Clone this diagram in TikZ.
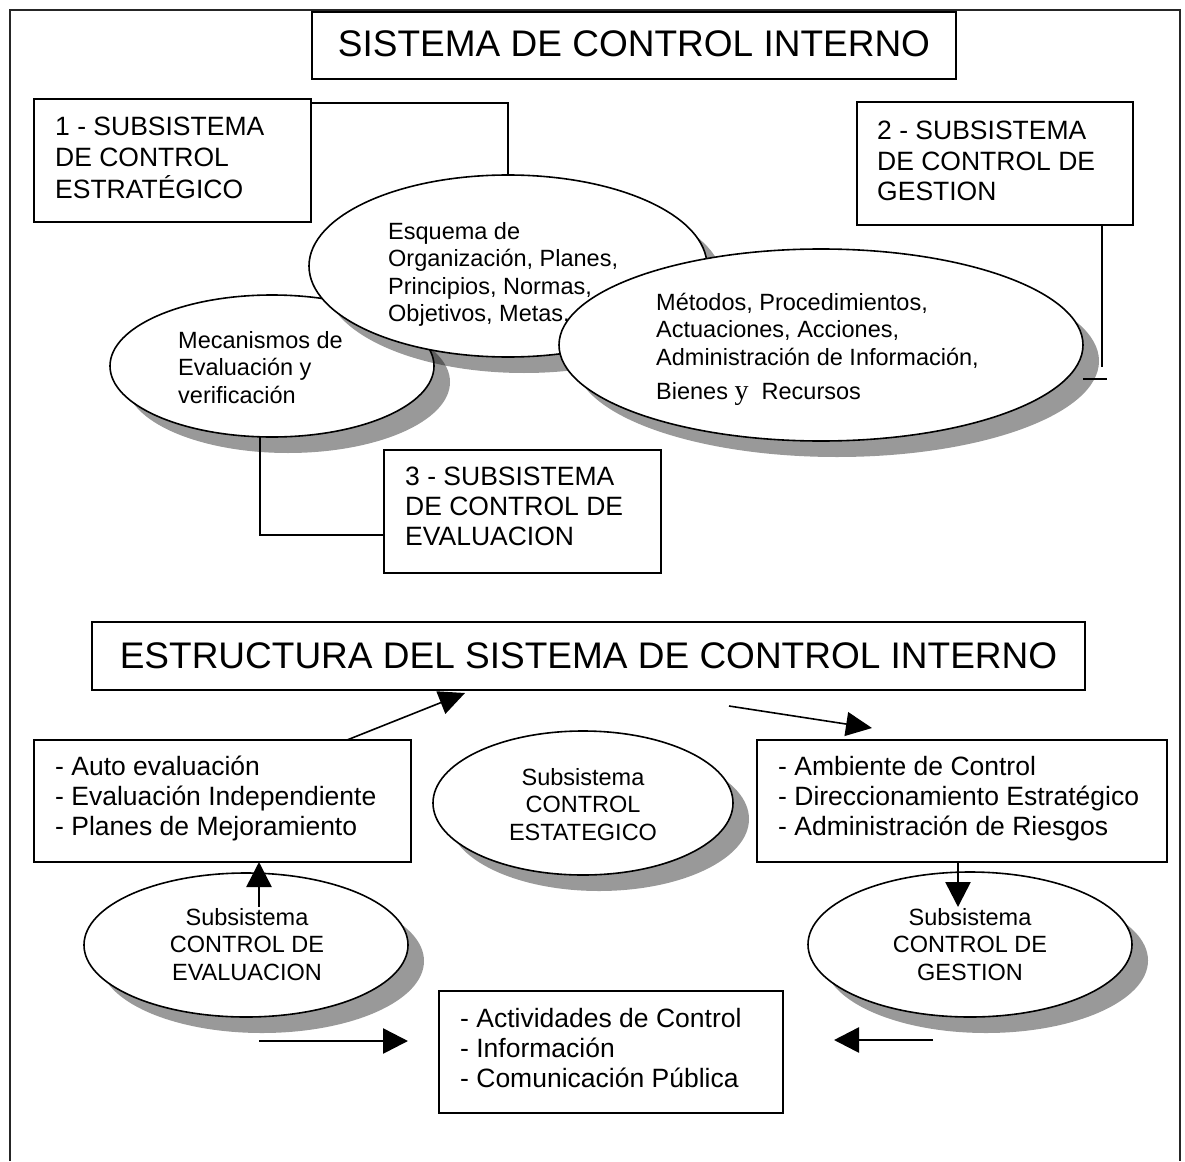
\documentclass[tikz,border=0pt]{standalone}
\usepackage{fontspec}
\setmainfont{Liberation Sans}
\newfontfamily\serifY{Liberation Serif}
\usetikzlibrary{shapes.geometric,arrows.meta,shadows}
\begin{document}
\begin{tikzpicture}[x=1pt,y=-1pt,
  box/.style={draw, line width=2.4pt, rectangle, inner sep=0pt, outer sep=0pt},
  ell/.style={draw, line width=1.6pt, ellipse, fill=white, inner sep=0pt, outer sep=0pt,
    drop shadow={shadow xshift=16pt, shadow yshift=-16pt, opacity=0.4, fill=black}},
  conn/.style={line width=1.6pt},
  bigarrow/.style={line width=2.6pt, -{Triangle[length=25pt,width=25pt]}},
  slantarrow/.style={line width=1.6pt, -{Triangle[length=26pt,width=24pt]}},
  boxtext/.style={inner sep=0pt, anchor=base west, font=\fontsize{26.5}{30.3}\selectfont},
  elltext/.style={inner sep=0pt, anchor=base west, font=\fontsize{23.5}{27.6}\selectfont},
  ctrtext/.style={inner sep=0pt, anchor=base, font=\fontsize{23.5}{27.8}\selectfont},
  titletext/.style={inner sep=0pt, anchor=base, font=\fontsize{37}{40}\selectfont},
]
\fill[white] (0,0) rectangle (1185,1161);
\useasboundingbox (0,0) rectangle (1185,1161);
% outer frame
\draw[line width=2pt, black!85] (10,1161) -- (10,10) -- (1180,10) -- (1180,1161);

% ---------- upper part ----------
\node[box, minimum width=644pt, minimum height=67pt] (t1) at (634,45.5) {};
\node[titletext] (t1t) at (634,57) {SISTEMA DE CONTROL INTERNO};

\node[box, minimum width=277pt, minimum height=123pt] (b1) at (172.5,160.5) {};
\node[boxtext] (b1t) at (55,136) {\begin{tabular}[t]{@{}l@{}}1 - SUBSISTEMA\\DE CONTROL\\ESTRATÉGICO\end{tabular}};

\node[box, minimum width=276pt, minimum height=123pt] (b2) at (995,163.5) {};
\node[boxtext] (b2t) at (877,140) {\begin{tabular}[t]{@{}l@{}}2 - SUBSISTEMA\\DE CONTROL DE\\GESTION\end{tabular}};

\node[box, minimum width=277pt, minimum height=123pt] (b3) at (522.5,511.5) {};
\node[boxtext] (b3t) at (405,485) {\begin{tabular}[t]{@{}l@{}}3 - SUBSISTEMA\\DE CONTROL DE\\EVALUACION\end{tabular}};

\draw[conn] ([yshift=-4pt]b1.north east) -| (508,175);

\node[ell, minimum width=324pt, minimum height=142pt] (mec) at (272,366) {};
\node[elltext] (mect) at (178,348) {\begin{tabular}[t]{@{}l@{}}Mecanismos de\\Evaluación y\\verificación\end{tabular}};

\node[ell, minimum width=398pt, minimum height=182pt] (esq) at (508,266) {};
\node[elltext] (esqt) at (388,239) {\begin{tabular}[t]{@{}l@{}}Esquema de\\Organización, Planes,\\Principios, Normas,\\Objetivos, Metas,\end{tabular}};

\node[ell, minimum width=524pt, minimum height=192pt] (met) at (821,345) {};
\node[elltext] (mett) at (656,310) {\begin{tabular}[t]{@{}l@{}}Métodos, Procedimientos,\\Actuaciones, Acciones,\\Administración de Información,\\[6.5pt]Bienes {\serifY\fontsize{28}{28}\selectfont y}\ \ Recursos\end{tabular}};

\coordinate (g1) at (1102,367);
\draw[conn] (g1 |- b2.south) -- (g1);
\coordinate (k1) at (1083,379);
\coordinate (k2) at (1107,379);
\draw[conn] (k1) -- (k2);
\coordinate (m1) at (260,437);
\draw[conn] (m1) |- ([yshift=-23.5pt]b3.west);

% ---------- lower part ----------
\node[box, minimum width=993pt, minimum height=68pt] (t2) at (588.5,656) {};
\node[titletext] (t2t) at (588.5,668) {ESTRUCTURA DEL SISTEMA DE CONTROL INTERNO};

\node[box, minimum width=377pt, minimum height=122pt] (auto) at (222.5,801) {};
\node[boxtext] (autot) at (55,775) {\begin{tabular}[t]{@{}l@{}}- Auto evaluación\\- Evaluación Independiente\\- Planes de Mejoramiento\end{tabular}};

\node[box, minimum width=410pt, minimum height=122pt] (amb) at (962,801) {};
\node[boxtext] (ambt) at (778,775) {\begin{tabular}[t]{@{}l@{}}- Ambiente de Control\\- Direccionamiento Estratégico\\- Administración de Riesgos\end{tabular}};

\node[box, minimum width=344pt, minimum height=122pt] (act) at (611,1052) {};
\node[boxtext] (actt) at (460,1027) {\begin{tabular}[t]{@{}l@{}}- Actividades de Control\\- Información\\- Comunicación Pública\end{tabular}};

\node[ell, minimum width=300pt, minimum height=144pt] (est) at (583,803) {};
\node[ctrtext] (estt) at (583,785) {\begin{tabular}[t]{@{}c@{}}Subsistema\\CONTROL\\ESTATEGICO\end{tabular}};

\node[ell, minimum width=324pt, minimum height=144pt] (eva) at (246,945) {};
\node[ctrtext] (evat) at (247,925) {\begin{tabular}[t]{@{}c@{}}Subsistema\\CONTROL DE\\EVALUACION\end{tabular}};

\node[ell, minimum width=324pt, minimum height=145pt] (ges) at (970,944.5) {};
\node[ctrtext] (gest) at (970,925) {\begin{tabular}[t]{@{}c@{}}Subsistema\\CONTROL DE\\GESTION\end{tabular}};

% arrows
\draw[slantarrow] ([xshift=124.5pt]auto.north) -- ([xshift=-123.5pt,yshift=-3pt]t2.south);
\coordinate (a2s) at (729,706);
\draw[slantarrow] (a2s) -- ([xshift=-90pt,yshift=12pt]amb.north);
\coordinate (u1) at (259,907);
\draw[bigarrow] (u1) -- (u1 |- auto.south);
\coordinate (d1) at (958,907);
\draw[bigarrow] (d1 |- amb.south) -- (d1);
\coordinate (h1s) at (259,1041);
\coordinate (h1e) at (408,1041);
\draw[bigarrow] (h1s) -- (h1e);
\coordinate (h2s) at (933,1040);
\coordinate (h2e) at (834,1040);
\draw[bigarrow] (h2s) -- (h2e);
\end{tikzpicture}
\end{document}
